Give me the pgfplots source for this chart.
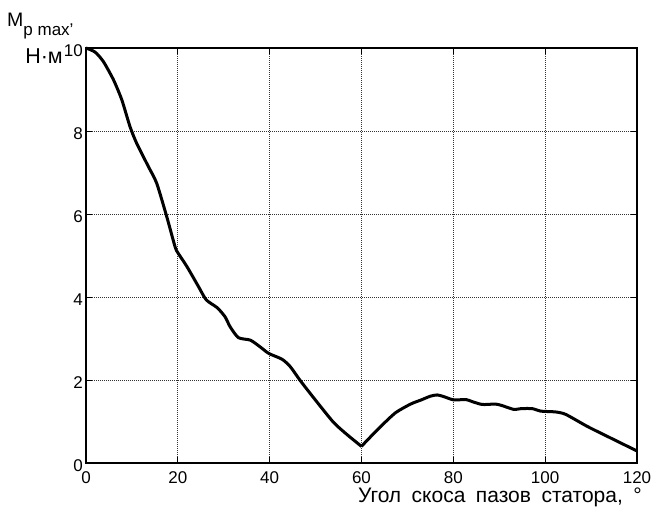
\documentclass[border=0pt]{standalone}
\usepackage{fontspec}
\setmainfont{Liberation Sans}
\usepackage{pgfplots}
\pgfplotsset{compat=1.18}

\begin{document}
\begin{tikzpicture}
\useasboundingbox (-86pt,-45pt) rectangle (567pt,463pt);
\begin{axis}[
    at={(0pt,0pt)}, anchor=south west,
    scale only axis,
    width=551pt, height=415pt,
    xmin=0, xmax=120, ymin=0, ymax=10,
    xtick={0,20,...,120},
    ytick={0,2,...,10},
    /pgf/number format/assume math mode=true,
    ticklabel style={font=\fontsize{17}{18}\selectfont},
    xticklabel style={inner sep=0pt, yshift=-8pt},
    yticklabel style={inner sep=0pt, xshift=-3pt, yshift=-3pt},
    axis line style={line width=1.8pt},
    tick align=inside,
    major tick length=6pt,
    tick style={black, line width=0.8pt},
    grid=major,
    major grid style={black!80, line width=0.7pt, dash pattern=on 0.8pt off 1.2pt},
    clip=false,
]
% descending branch, 0..60 deg
\addplot[black, line width=3pt, smooth, tension=0.4, line join=round] coordinates {
    (0,10) (2,9.9) (3.8,9.67) (6,9.23) (7.8,8.75) (9.6,8.1) (11.05,7.70)
    (13.6,7.14) (15.4,6.74) (17.6,5.93) (19.4,5.21) (20.1,5.05) (22.0,4.73)
    (24.5,4.25) (26.2,3.93) (28.6,3.74) (30.3,3.52) (31.4,3.28) (33.2,3.02)
    (35.8,2.96) (37.9,2.80) (39.8,2.64) (42.7,2.50) (44.5,2.32) (46.7,1.98)
    (49.8,1.54) (53.9,0.98) (56.9,0.68) (60,0.40)
};
% second branch, 60..120 deg
\addplot[black, line width=3pt, smooth, tension=0.4, line join=round] coordinates {
    (60,0.40) (61,0.52) (64.1,0.87)
    (67.4,1.21) (70.7,1.42) (73,1.52) (75.0,1.61) (76.5,1.64) (77.9,1.60)
    (80.1,1.52) (82.7,1.53) (84.1,1.48) (86.3,1.41) (89.2,1.42) (90.7,1.38)
    (93.2,1.29) (94.7,1.31) (97.2,1.31) (99.0,1.25) (102.3,1.23) (104.5,1.17)
    (109.2,0.88) (114.3,0.60) (120,0.29)
};
\end{axis}
% axis labels
\node[anchor=base east, inner sep=0pt, font=\fontsize{21}{23}\selectfont]
    at (556pt,-39.5pt) {\spaceskip=10.5pt Угол скоса пазов статора, °};
\node[anchor=base west, inner sep=0pt, font=\fontsize{19.5}{21}\selectfont]
    at (-79pt,436pt) {M\raisebox{-9pt}{\fontsize{17}{18}\selectfont p max’}};
\node[anchor=base, inner sep=0pt, font=\fontsize{21.5}{23}\selectfont]
    at (-42pt,399pt) {Н·м};
\end{tikzpicture}
\end{document}
